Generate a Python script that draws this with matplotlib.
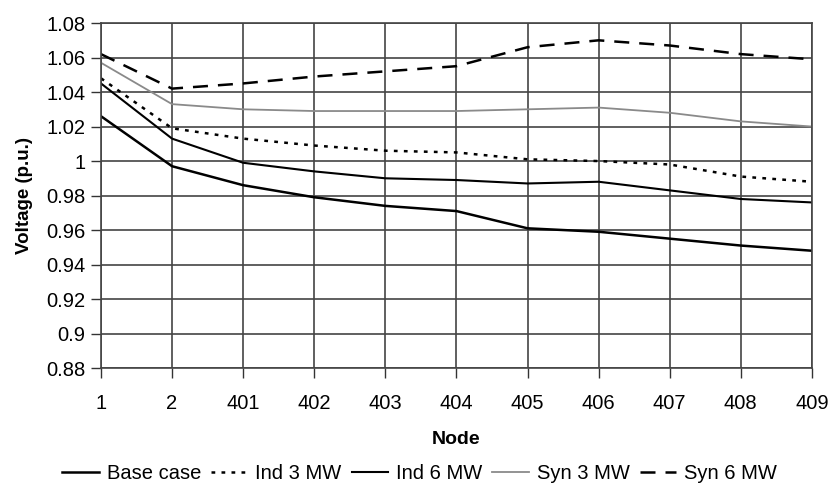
import matplotlib.pyplot as plt

plt.rcParams['font.family'] = ['Liberation Sans', 'DejaVu Sans']

nodes = ['1', '2', '401', '402', '403', '404', '405', '406', '407', '408', '409']
base_case = [1.026, 0.997, 0.986, 0.979, 0.974, 0.971, 0.961, 0.959, 0.955, 0.951, 0.948]
ind_3mw = [1.048, 1.019, 1.013, 1.009, 1.006, 1.005, 1.001, 1.000, 0.998, 0.991, 0.988]
ind_6mw = [1.045, 1.013, 0.999, 0.994, 0.990, 0.989, 0.987, 0.988, 0.983, 0.978, 0.976]
syn_3mw = [1.057, 1.033, 1.030, 1.029, 1.029, 1.029, 1.030, 1.031, 1.028, 1.023, 1.020]
syn_6mw = [1.062, 1.042, 1.045, 1.049, 1.052, 1.055, 1.066, 1.070, 1.067, 1.062, 1.059]

yticks = [0.88, 0.9, 0.92, 0.94, 0.96, 0.98, 1.0, 1.02, 1.04, 1.06, 1.08]
ytick_labels = ['0.88', '0.9', '0.92', '0.94', '0.96', '0.98', '1', '1.02', '1.04', '1.06', '1.08']

fig = plt.figure(figsize=(8.31, 4.91), dpi=100)
ax = fig.add_axes([0.1215, 0.2505, 0.8555, 0.7025])

x = list(range(len(nodes)))
ax.plot(x, base_case, color='black', lw=1.8, label='Base case')
ax.plot(x, ind_3mw, color='black', lw=1.8, ls=(0, (1.5, 2.5)), label='Ind 3 MW')
ax.plot(x, ind_6mw, color='black', lw=1.5, label='Ind 6 MW')
ax.plot(x, syn_3mw, color='#8a8a8a', lw=1.3, label='Syn 3 MW')
ax.plot(x, syn_6mw, color='black', lw=1.8, ls=(0, (6, 4)), label='Syn 6 MW')

ax.set_xlim(0, len(nodes) - 1)
ax.set_ylim(0.88, 1.08)
ax.set_xticks(x)
ax.set_xticklabels(nodes)
ax.set_yticks(yticks)
ax.set_yticklabels(ytick_labels)
ax.tick_params(labelsize=14.5, length=7, width=1, color='#333333', pad=12)
ax.tick_params(axis='y', length=7, pad=4)
ax.grid(True, color='#444444', lw=1.2)
for s in ax.spines.values():
    s.set_color('#444444')
    s.set_linewidth(1.2)

ax.set_xlabel('Node', fontsize=14, fontweight='bold', labelpad=13)
ax.set_ylabel('Voltage (p.u.)', fontsize=13.5, fontweight='bold', labelpad=10)

fig.legend(loc='lower center', bbox_to_anchor=(0.505, -0.02), ncol=5, frameon=False,
           fontsize=14.5, handlelength=1.8, handletextpad=0.4, columnspacing=0.5)

plt.savefig('out.png', dpi=100)
